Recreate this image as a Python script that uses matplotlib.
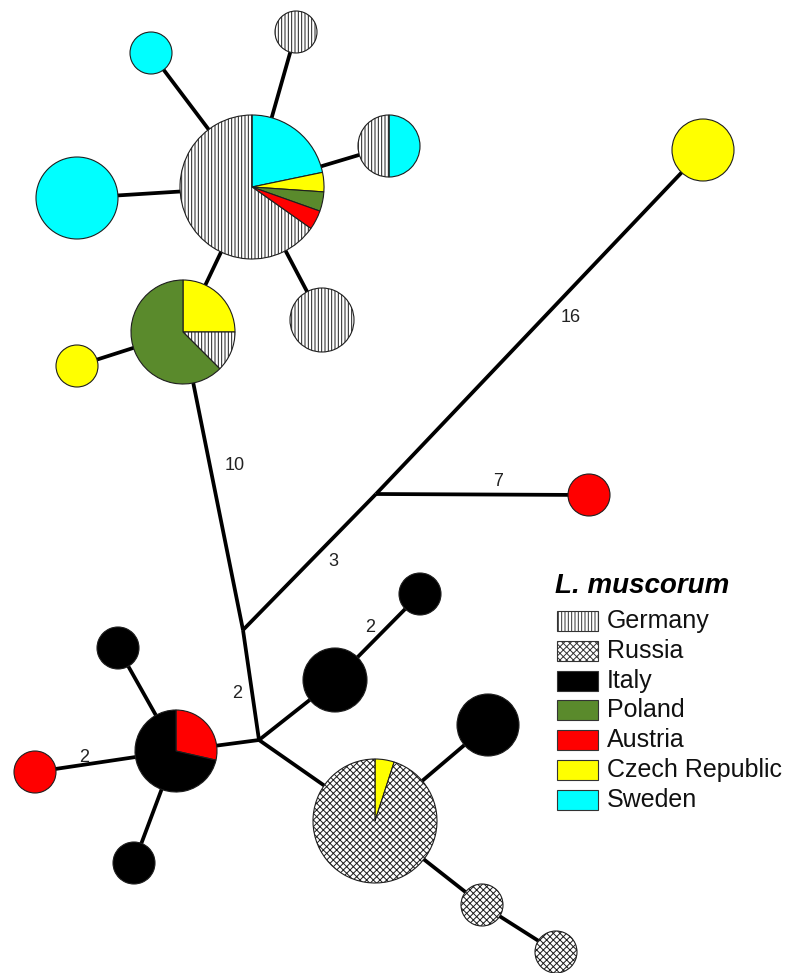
import matplotlib
matplotlib.use("Agg")
import matplotlib.pyplot as plt
from matplotlib.patches import Rectangle

plt.rcParams['font.family'] = ['Liberation Sans', 'DejaVu Sans']
plt.rcParams['hatch.linewidth'] = 0.7

W, H = 794, 973

# countries, legend order
countries = ['Germany', 'Russia', 'Italy', 'Poland', 'Austria', 'Czech Republic', 'Sweden']
country_colors = {'Germany': 'white', 'Russia': 'white', 'Italy': 'black',
                  'Poland': '#5a8a2c', 'Austria': '#ff0000',
                  'Czech Republic': '#ffff00', 'Sweden': '#00ffff'}
country_hatch = {'Germany': '|||||', 'Russia': 'xxxxx'}

# haplotypes: countries (clockwise from 12 o'clock) and individuals
hap_names = ['H1', 'H2', 'H3', 'H4', 'H5', 'SW1', 'GE1', 'SW2', 'GE2', 'CZ1', 'CZ2',
             'AT1', 'IT1', 'IT2', 'IT3', 'IT4', 'IT5', 'AT2', 'RU1', 'RU2']
hap_countries = [
    ['Sweden', 'Czech Republic', 'Poland', 'Austria', 'Germany'],
    ['Czech Republic', 'Germany', 'Poland'],
    ['Sweden', 'Germany'],
    ['Austria', 'Italy'],
    ['Czech Republic', 'Russia'],
    ['Sweden'], ['Germany'], ['Sweden'], ['Germany'], ['Czech Republic'],
    ['Czech Republic'], ['Austria'], ['Italy'], ['Italy'], ['Italy'], ['Italy'],
    ['Italy'], ['Austria'], ['Russia'], ['Russia'],
]
hap_counts = [
    [5, 1, 1, 1, 15],
    [2, 1, 5],
    [1, 1],
    [2, 5],
    [1, 19],
    [1], [1], [3], [2], [1], [1], [1], [2], [1], [2], [1], [1], [1], [1], [1],
]

# layout of the network (image pixels, y downwards) and node radii
hap_x = [252, 183, 389, 176, 375, 151, 296, 77, 322, 77, 703, 589, 335, 420, 488, 118, 134, 35, 482, 556]
hap_y = [187, 332, 146, 751, 821, 53, 32, 198, 320, 366, 150, 495, 680, 594, 725, 648, 863, 772, 905, 952]
hap_r = [72, 52, 31, 41, 62, 21, 21, 41, 32, 21, 31, 21, 32, 21, 31, 21, 21, 21, 21, 21]

# median vectors (junctions)
junction_names = ['A', 'B', 'C']
junction_x = [243, 376, 259]
junction_y = [630, 494, 740]

# edges with number of mutational steps (blank = 1)
edges = [
    ('H1', 'SW1', ''), ('H1', 'GE1', ''), ('H1', 'SW2', ''), ('H1', 'H3', ''),
    ('H1', 'GE2', ''), ('H1', 'H2', ''), ('H2', 'CZ1', ''),
    ('H2', 'A', '10'), ('A', 'B', '3'), ('B', 'CZ2', '16'), ('B', 'AT1', '7'),
    ('A', 'C', '2'), ('C', 'H4', ''), ('C', 'IT1', ''), ('IT1', 'IT2', '2'),
    ('C', 'H5', ''), ('H5', 'IT3', ''), ('H5', 'RU1', ''), ('RU1', 'RU2', ''),
    ('H4', 'IT4', ''), ('H4', 'IT5', ''), ('H4', 'AT2', '2'),
]
# where the step numbers sit
step_label_xy = {('H2', 'A'): (235, 465), ('A', 'B'): (333, 562), ('B', 'CZ2'): (571, 318),
                 ('B', 'AT1'): (498, 482), ('A', 'C'): (237, 693), ('IT1', 'IT2'): (370, 628),
                 ('H4', 'AT2'): (84, 757)}

pos = {}
for n, x, y in zip(hap_names, hap_x, hap_y):
    pos[n] = (x, H - y)
for n, x, y in zip(junction_names, junction_x, junction_y):
    pos[n] = (x, H - y)

fig = plt.figure(figsize=(W / 100, H / 100), dpi=100)
ax = fig.add_axes([0, 0, 1, 1])

for a, b, lab in edges:
    (x1, y1), (x2, y2) = pos[a], pos[b]
    ax.plot([x1, x2], [y1, y2], color='black', lw=2.7, zorder=1, solid_capstyle='butt')
    if lab:
        lx, ly = step_label_xy[(a, b)]
        ax.text(lx, H - ly, lab, fontsize=13, ha='center', va='center', color='#222222')

for n, cs, cnt, r in zip(hap_names, hap_countries, hap_counts, hap_r):
    ax.pie(cnt, center=pos[n], radius=r,
           colors=[country_colors[c] for c in cs],
           hatch=[country_hatch.get(c, '') for c in cs],
           startangle=90, counterclock=False,
           wedgeprops=dict(edgecolor='#1e1e1e', linewidth=0.8, zorder=3))

# legend
ax.text(555, H - 586, 'L. muscorum', fontsize=20, fontweight='bold', style='italic',
        ha='left', va='center')
for i, c in enumerate(countries):
    yc = H - (621 + i * 29.8)
    ax.add_patch(Rectangle((557, yc - 10), 41, 20, facecolor=country_colors[c],
                           hatch=country_hatch.get(c, ''), edgecolor='#333333', lw=0.8))
    ax.text(607, yc, c, fontsize=18, ha='left', va='center', color='#111111')

ax.set_xlim(0, W)
ax.set_ylim(0, H)
ax.set_aspect('equal')
ax.axis('off')

plt.savefig("out.png", dpi=100)
